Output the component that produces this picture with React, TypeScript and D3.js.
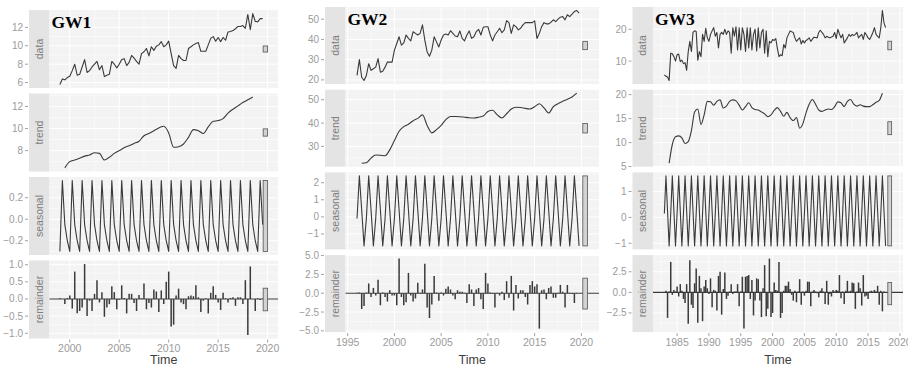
import React from "react";
import * as d3 from "d3";

// STL decomposition of three groundwater series (quarterly), ggplot/autoplot look

const rowNames = ["data", "trend", "seasonal", "remainder"];

// ---------- GW1 : quarterly from 1999 Q1 ----------
const gw1Start = 1999;
const gw1Data = [
  5.8, 6.4, 6.3, 6.55, 6.7, 7.3, 8.0, 6.8, 6.9, 7.7,
  8.5, 7.1, 7.3, 7.7, 8.0, 8.3, 7.4, 7.85, 6.65, 6.8,
  6.9, 8.3, 8.0, 7.6, 8.0, 8.5, 8.6, 7.85, 8.2, 8.95,
  8.65, 8.3, 8.0, 9.15, 9.35, 9.7, 8.9, 9.9, 9.5, 9.95,
  10.1, 10.45, 9.9, 10.1, 10.5, 9.15, 7.85, 7.55, 8.95, 8.6,
  8.4, 8.4, 9.7, 9.9, 10.1, 10.25, 10.35, 9.4, 9.4, 9.4,
  10.1, 10.8, 11.0, 10.5, 10.9, 10.45, 10.9, 10.6, 11.5, 11.55,
  11.65, 11.85, 12.1, 12.1, 12.2, 11.9, 13.4, 11.75, 13.5, 12.65,
  12.6, 12.95, 12.95,
];
const gw1TrendStart = 1999.5; // half-yearly readings
const gw1Trend = [
  6.43, 7.0, 7.15, 7.3, 7.5, 7.6, 7.8, 7.75, 7.15, 7.4,
  7.75, 8.0, 8.25, 8.45, 8.65, 8.85, 9.35, 9.55, 9.8, 10.05,
  10.2, 9.6, 8.3, 8.35, 8.6, 9.2, 9.9, 9.8, 9.55, 10.15,
  10.65, 10.72, 10.9, 11.4, 11.75, 12.05, 12.35, 12.6, 12.85,
];
const gw1SeasonalCycle = [-0.3, 0.36, -0.05, -0.2];
const gw1Remainder = [
  0.02, 0.0, -0.15, 0.03, 0.1, -0.28, 0.8, -0.42, -0.35, -0.25,
  1.02, -0.5, -0.05, -0.35, 0.15, 0.55, -0.1, 0.2, -0.52, -0.25,
  -0.15, 0.37, 0.2, -0.3, -0.02, 0.4, 0.03, -0.42, 0.15, 0.15,
  -0.12, -0.35, 0.12, 0.02, 0.45, -0.3, -0.12, -0.25, 0.28, 0.22,
  -0.38, 0.25, -0.15, 0.5, 0.8, -0.8, -0.75, 0.1, 0.3, -0.1,
  -0.15, -0.3, 0.08, 0.1, 0.08, 0.4, 0.05, -0.38, -0.05, 0.02,
  -0.42, 0.18, 0.37, 0.12, -0.1, -0.32, 0.18, 0.02, -0.1, 0.03,
  0.05, -0.2, 0.05, 0.05, -0.15, 0.55, -1.05, 0.95, 0.0, -0.35,
  0.02, -0.03, 0.01,
];
const gw1Bar = [2019.55, 2020.0];
const gw1YTicks = [[6, 8, 10, 12], [8, 10, 12], [-0.2, 0, 0.2], [-1, -0.5, 0, 0.5, 1]];
const gw1XTicks = [2000, 2005, 2010, 2015, 2020];

// ---------- GW2 : quarterly from 1996 Q1 ----------
const gw2Start = 1996;
const gw2Data = [
  22.2, 30.0, 21.3, 19.7, 22.2, 28.0, 24.7, 25.5, 26.3, 30.5,
  23.8, 24.3, 26.3, 28.8, 28.8, 28.8, 34.7, 38.0, 41.3, 37.2,
  38.3, 42.2, 40.5, 39.3, 43.8, 43.0, 42.2, 43.0, 47.2, 39.7,
  33.8, 31.7, 34.7, 41.3, 38.8, 36.3, 39.7, 42.2, 42.7, 42.2,
  44.3, 43.0, 41.7, 41.3, 44.2, 40.5, 39.3, 42.2, 44.2, 40.5,
  41.3, 43.8, 45.0, 42.2, 46.0, 46.3, 46.3, 42.2, 39.3, 42.2,
  43.8, 45.5, 43.3, 44.7, 49.3, 48.3, 43.0, 47.2, 46.3, 44.7,
  45.5, 47.2, 48.3, 48.3, 48.3, 48.3, 49.2, 40.5, 43.0, 46.3,
  48.3, 47.7, 47.7, 48.5, 49.7, 48.8, 50.0, 51.0, 51.3, 49.7,
  52.2, 51.3, 52.5, 53.8, 54.3, 53.0,
];
const gw2TrendStart = 1996.5;
const gw2Trend = [
  22.8, 23.0, 25.0, 26.3, 26.2, 26.0, 28.5, 32.5, 36.5, 38.5,
  39.5, 41.0, 42.0, 43.5, 39.0, 35.8, 37.2, 39.0, 41.5, 42.8,
  42.8, 42.7, 42.5, 42.3, 42.2, 42.5, 43.0, 45.0, 45.5, 43.5,
  42.2, 44.0, 46.0, 46.8, 46.7, 46.3, 46.0, 47.0, 48.3, 46.5,
  44.3, 47.0, 48.3, 49.3, 50.2, 51.2, 52.8,
];
const gw2SeasonalCycle = [-0.1, 2.4, 0.4, -1.7];
const gw2Remainder = [
  0.05, 0.1, -2.1, -1.7, 0.1, 1.3, -0.5, 0.7, -0.3, 1.8,
  -1.6, 0.1, -0.5, -1.1, 0.4, -0.3, -0.3, -1.6, 4.6, -0.5,
  -1.6, -1.2, 2.7, -0.3, -1.1, -0.7, 1.4, 0.05, 0.5, 3.9,
  -1.9, -3.3, -1.5, 2.3, 0.1, -1.0, 0.1, -0.3, 0.6, 0.9,
  0.5, -0.3, -0.8, 0.4, 0.2, 0.2, 0.05, -1.3, 1.2, 0.5,
  -1.7, 0.5, 0.7, -0.8, -2.1, 2.7, 1.3, 0.1, -0.1, -1.9,
  0.05, -0.3, 0.2, -0.9, 1.6, -0.6, 2.3, -2.3, 1.1, -0.7,
  0.4, 0.4, -0.5, -1.5, 1.1, 1.6, 0.9, 1.2, -4.7, 0.4,
  0.5, -0.8, 0.7, 0.9, -0.6, -0.6, 0.05, 1.1, 0.2, -1.9,
  1.1, 0.05, -0.1, -1.3, 0.05, 0.0,
];
const gw2Bar = [2020.15, 2020.65];
const gw2YTicks = [[20, 30, 40, 50], [30, 40, 50], [-1, 0, 1, 2], [-5, -2.5, 0, 2.5, 5]];
const gw2XTicks = [1995, 2000, 2005, 2010, 2015, 2020];

// ---------- GW3 : quarterly from 1983 Q1 ----------
const gw3Start = 1983;
const gw3Data = [
  5.7, 5.2, 5.0, 3.9,
  12.5, 12.3, 11.4, 10.0, 12.0, 12.2, 9.8, 10.3, 9.2, 9.5,
  7.1, 13.0, 16.2, 13.0, 19.0, 19.5, 19.3, 10.3, 13.0, 11.4,
  18.4, 16.2, 20.3, 17.3, 16.2, 18.4, 19.5, 20.5, 17.8, 19.0,
  14.1, 18.4, 19.0, 18.4, 20.0, 18.4, 19.5, 19.0, 12.5, 20.5,
  17.8, 20.8, 13.5, 20.5, 13.5, 20.5, 18.4, 13.0, 20.5, 14.1,
  20.5, 13.5, 18.4, 20.0, 13.2, 20.5, 14.1, 19.0, 20.0, 12.5,
  19.5, 11.4, 16.2, 15.7, 16.8, 16.5, 17.1, 14.0, 11.4, 12.0, 11.7,
  15.2, 14.1, 17.3, 18.4, 19.5, 19.2, 19.0, 17.3, 16.2, 16.8, 17.3, 15.4,
  16.5, 15.7, 16.5, 16.8, 17.3, 16.2, 16.9, 17.5, 17.4, 17.3, 19.0, 19.7, 19.0,
  18.4, 17.3, 17.8, 17.5, 17.3, 17.6, 17.8, 19.0, 17.1, 20.0, 18.5, 17.3, 18.4,
  15.7, 16.5, 17.3, 18.4, 17.8, 18.4, 18.0, 18.4, 19.0, 17.3, 17.9, 18.4, 16.8,
  19.0, 18.2, 17.3, 16.8, 17.8, 19.0, 20.5, 18.4, 17.8, 17.3, 20.5, 25.9, 22.0,
  20.5,
];
const gw3TrendStart = 1983.75;
const gw3Trend = [
  5.7, 9.6, 11.2, 11.4, 11.0, 9.8, 10.2, 12.5, 16.4, 17.0,
  13.8, 15.8, 18.6, 18.5, 17.8, 18.6, 18.9, 17.2, 17.6, 18.6,
  18.9, 18.7, 17.8, 16.8, 17.5, 18.3, 17.3, 16.9, 16.8, 16.4,
  16.0, 15.4, 15.8, 16.7, 17.3, 16.5, 15.5, 16.3, 15.2, 14.6,
  15.2, 13.0, 13.9, 16.2, 18.0, 19.0, 18.0, 16.8, 16.5, 16.8,
  17.0, 16.9, 17.5, 18.5, 18.3, 17.5, 18.6, 19.0, 18.0, 17.6,
  17.9, 17.6, 17.5, 17.5, 17.9, 18.4, 18.8, 20.3,
];
const gw3SeasonalCycle = [0.15, 1.6, 0.25, -1.1];
const gw3Remainder = [
  0.05, 0.2, -3.1, 0.1, 3.7, -0.3, 0.3, 0.1, 0.7, -0.5,
  1.0, 0.2, -0.8, -1.3, 1.0, -3.8, 3.9, -1.5, -1.9, 1.1,
  2.9, -3.7, 2.0, 0.5, -3.5, 0.7, 1.5, 0.5, -0.2, 1.7,
  -1.8, 0.3, 0.2, -2.2, 2.0, 2.5, -2.7, 0.4, 2.4, -0.8,
  -0.4, 0.1, 1.0, -0.2, 0.1, 0.1, 1.0, -1.7, 0.1, 1.9,
  -4.4, 1.9, 2.0, 2.1, -0.8, 1.5, -2.8, -1.0, 1.7, 1.6,
  -1.0, -3.0, 0.5, 3.3, -2.9, -2.0, 4.1, -3.0, -2.5, 1.2,
  0.3, 0.2, 3.7, -3.1, -2.5, 0.2, 0.8, 0.8, 1.3, 0.4,
  -0.3, -1.0, 0.2, -1.2, 0.1, 1.6, -1.5, 0.1, -0.4, 0.2,
  1.3, 1.3, -1.7, 0.1, 0.3, 0.1, -0.1, -0.6, 0.2, 0.5,
  0.1, -1.4, 1.4, -1.5, -0.2, -0.5, 0.3, 0.1, 0.3, 0.2,
  2.1, -0.7, 0.1, -1.4, 0.2, 1.4, 0.1, 0.2, 1.2, 1.1,
  -2.0, 0.1, 1.2, 0.5, -1.6, 2.1, -0.5, -0.4, -0.8, 0.1,
  0.2, 0.1, 0.3, 0.1, 0.8, -1.5, 0.2, -2.3, 0.1, 0.0,
];
const gw3Bar = [2018.1, 2018.7];
const gw3YTicks = [[10, 20], [5, 10, 15, 20], [-1, 0, 1], [-2.5, 0, 2.5]];
const gw3XTicks = [1985, 1990, 1995, 2000, 2005, 2010, 2015, 2020];

const wells = [
  { title: "GW1", start: gw1Start, data: gw1Data, trendStart: gw1TrendStart, trend: gw1Trend, cycle: gw1SeasonalCycle, remainder: gw1Remainder, bar: gw1Bar, yTicks: gw1YTicks, xTicks: gw1XTicks, fmt: ["d", "d", ".1f", ".1f"] },
  { title: "GW2", start: gw2Start, data: gw2Data, trendStart: gw2TrendStart, trend: gw2Trend, cycle: gw2SeasonalCycle, remainder: gw2Remainder, bar: gw2Bar, yTicks: gw2YTicks, xTicks: gw2XTicks, fmt: ["d", "d", "d", ".1f"] },
  { title: "GW3", start: gw3Start, data: gw3Data, trendStart: gw3TrendStart, trend: gw3Trend, cycle: gw3SeasonalCycle, remainder: gw3Remainder, bar: gw3Bar, yTicks: gw3YTicks, xTicks: gw3XTicks, fmt: ["d", "d", "d", ".1f"] },
];

// panel boxes: left edge of strip, right edge of plot, top, row height, gap
const boxes = [
  { left: 29, strip: 20.5, right: 278, top: 10, row: 78, gap: 5.5 },
  { left: 325, strip: 20.5, right: 599, top: 7, row: 77, gap: 5.7 },
  { left: 632.5, strip: 20.5, right: 903, top: 7, row: 77, gap: 5.7 },
];

const PANEL_BG = "#f3f3f3";
const STRIP_BG = "#e4e4e4";
const TICK_TXT = "#9b9b9b";
const INK = "#3a3a3a";

function minorOf(ticks: number[], lo: number, hi: number) {
  const step = ticks.length > 1 ? ticks[1] - ticks[0] : 1;
  const out: number[] = [];
  for (let i = -1; i < ticks.length; i++) {
    const m = (i < 0 ? ticks[0] - step : ticks[i]) + step / 2;
    if (m > lo && m < hi) out.push(m);
  }
  return out;
}

function Decomp({ well, box }: any) {
  const t = (i: number) => well.start + i / 4;
  const seasonal = well.data.map((_: number, i: number) => well.cycle[i % well.cycle.length]);
  const comps: [number, number][][] = [
    well.data.map((v: number, i: number) => [t(i), v]),
    well.trend.map((v: number, i: number) => [well.trendStart + i * 0.5, v]),
    seasonal.map((v: number, i: number) => [t(i), v]),
    well.remainder.map((v: number, i: number) => [t(i), v]),
  ];
  const spans = comps.map((c) => d3.extent(c, (p) => p[1]) as [number, number]);
  const barLen = d3.min(spans, (e) => e[1] - e[0]) as number;

  const x0 = well.start;
  const x1 = well.bar[1];
  const xpad = (x1 - x0) * 0.05;
  const pl = box.left + box.strip;
  const x = d3.scaleLinear().domain([x0 - xpad, x1 + xpad]).range([pl, box.right]);
  const [xlo, xhi] = x.domain();
  const xMinor = minorOf(well.xTicks, xlo, xhi);
  const bottom = box.top + 4 * box.row + 3 * box.gap;

  return (
    <g>
      {rowNames.map((name, r) => {
        const top = box.top + r * (box.row + box.gap);
        const bot = top + box.row;
        const [lo, hi] = spans[r];
        const pad = (hi - lo) * 0.05;
        const y = d3.scaleLinear().domain([lo - pad, hi + pad]).range([bot, top]);
        const [ylo, yhi] = y.domain();
        const ticks = well.yTicks[r];
        const yMinor = minorOf(ticks, ylo, yhi);
        const fmt = d3.format(well.fmt[r]);
        const mid = (lo + hi) / 2;
        const line = d3.line<[number, number]>().x((p) => x(p[0])).y((p) => y(p[1]));
        if (r === 1) line.curve(d3.curveMonotoneX);
        return (
          <g key={name}>
            <rect x={box.left} y={top} width={box.strip} height={box.row} fill={STRIP_BG} />
            <text
              transform={`translate(${box.left + box.strip / 2 + 3.6},${(top + bot) / 2}) rotate(-90)`}
              textAnchor="middle" fontSize={10.5} fill="#7d7d7d"
            >{name}</text>
            <rect x={pl} y={top} width={box.right - pl} height={box.row} fill={PANEL_BG} />
            {yMinor.map((v) => (
              <line key={"ym" + v} x1={pl} x2={box.right} y1={y(v)} y2={y(v)} stroke="#fff" strokeWidth={0.5} />
            ))}
            {xMinor.map((v) => (
              <line key={"xm" + v} x1={x(v)} x2={x(v)} y1={top} y2={bot} stroke="#fff" strokeWidth={0.5} />
            ))}
            {ticks.map((v: number) => (
              <line key={"yM" + v} x1={pl} x2={box.right} y1={y(v)} y2={y(v)} stroke="#fff" strokeWidth={1} />
            ))}
            {well.xTicks.filter((v: number) => v > xlo && v < xhi).map((v: number) => (
              <line key={"xM" + v} x1={x(v)} x2={x(v)} y1={top} y2={bot} stroke="#fff" strokeWidth={1} />
            ))}
            {ticks.map((v: number) => (
              <g key={"yt" + v}>
                <line x1={box.left - 4} x2={box.left - 1} y1={y(v)} y2={y(v)} stroke="#8a8a8a" strokeWidth={0.8} />
                <text x={box.left - 6} y={y(v)} dy="0.35em" textAnchor="end" fontSize={10} fill={TICK_TXT}>
                  {fmt(v)}
                </text>
              </g>
            ))}
            {r < 3 ? (
              <path d={line(comps[r]) || ""} fill="none" stroke={INK} strokeWidth={1.1} strokeLinejoin="round" />
            ) : (
              <g>
                <line x1={pl} x2={box.right} y1={y(0)} y2={y(0)} stroke={INK} strokeWidth={1.1} />
                {comps[3].map((p, i) => (
                  <line key={i} x1={x(p[0])} x2={x(p[0])} y1={y(0)} y2={y(p[1])} stroke={INK} strokeWidth={1.5} />
                ))}
              </g>
            )}
            <rect
              x={x(well.bar[0])} width={x(well.bar[1]) - x(well.bar[0])}
              y={y(mid + barLen / 2)} height={y(mid - barLen / 2) - y(mid + barLen / 2)}
              fill="#d2d2d2" stroke="#555" strokeWidth={0.8}
            />
          </g>
        );
      })}
      {well.xTicks.map((v: number) => (
        <g key={"xt" + v}>
          <line x1={x(v)} x2={x(v)} y1={bottom + 1} y2={bottom + 4} stroke="#8a8a8a" strokeWidth={0.8} />
          <text x={x(v)} y={bottom + 13.5} textAnchor="middle" fontSize={10.5} fill={TICK_TXT}>{v}</text>
        </g>
      ))}
      <text x={(pl + box.right) / 2} y={364} textAnchor="middle" fontSize={12.5} fill="#3d3d3d">Time</text>
      <text x={pl + 2} y={box.top + 18} fontFamily="Liberation Serif, Times New Roman, serif" fontWeight="bold" fontSize={17.5} fill="#000">
        {well.title}
      </text>
    </g>
  );
}

export default function App() {
  return (
    <svg width={908} height={368} style={{ position: "absolute", left: 0, top: 0, display: "block" }}
      fontFamily="Liberation Sans, Arial, sans-serif">
      <rect width={908} height={368} fill="#fff" />
      {wells.map((w, k) => (
        <Decomp key={w.title} well={w} box={boxes[k]} />
      ))}
    </svg>
  );
}
